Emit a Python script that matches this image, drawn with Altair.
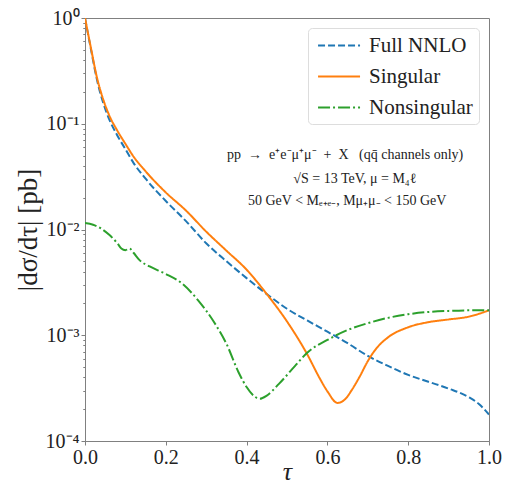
import altair as alt
import pandas as pd

# ---- data ----
tau_full = [0.0, 0.015, 0.03, 0.045, 0.06, 0.08, 0.1, 0.12, 0.15, 0.2, 0.25, 0.3, 0.35, 0.4,
            0.45, 0.5, 0.55, 0.6, 0.65, 0.7, 0.75, 0.8, 0.85, 0.9, 0.95, 0.975, 1.0]
val_full = [1.0, 0.50, 0.257, 0.158, 0.110, 0.0776, 0.0575, 0.0427, 0.0302, 0.0186, 0.0120,
            0.00741, 0.00501, 0.00347, 0.00245, 0.00178, 0.00138, 0.00108, 0.000841, 0.000638,
            0.000513, 0.000422, 0.000363, 0.000313, 0.000260, 0.000224, 0.000178]

tau_sing = [0.0, 0.015, 0.03, 0.045, 0.06, 0.08, 0.1, 0.12, 0.15, 0.2, 0.25, 0.3, 0.35, 0.4,
            0.45, 0.5, 0.55, 0.58, 0.6, 0.625, 0.645, 0.66, 0.68, 0.7, 0.72, 0.75, 0.8, 0.85,
            0.9, 0.95, 1.0]
val_sing = [1.0, 0.513, 0.269, 0.170, 0.120, 0.0861, 0.0646, 0.0490, 0.0355, 0.0224, 0.0151,
            0.00955, 0.00631, 0.00417, 0.00245, 0.00135, 0.000661, 0.000398, 0.000295, 0.000229,
            0.000251, 0.000302, 0.000407, 0.000569, 0.000741, 0.000955, 0.00119, 0.00133,
            0.00141, 0.00150, 0.00172]

tau_nons = [0.0, 0.02, 0.04, 0.06, 0.08, 0.09, 0.1, 0.11, 0.12, 0.135, 0.16, 0.2, 0.24, 0.28,
            0.32, 0.35, 0.38, 0.4, 0.42, 0.433, 0.45, 0.48, 0.52, 0.55, 0.6, 0.65, 0.7, 0.75,
            0.8, 0.85, 0.9, 0.95, 1.0]
val_nons = [0.0115, 0.0111, 0.0102, 0.00891, 0.00741, 0.00661, 0.00638, 0.00661, 0.00603,
            0.00513, 0.00447, 0.00380, 0.00309, 0.00214, 0.00132, 0.000832, 0.000447, 0.000324,
            0.000263, 0.000251, 0.000269, 0.000347, 0.000513, 0.000684, 0.000902, 0.00112,
            0.00130, 0.00146, 0.00158, 0.00166, 0.00170, 0.00172, 0.00172]

series_names = ["Full NNLO", "Singular", "Nonsingular"]
series_colors = ["#1f77b4", "#ff7f0e", "#2ca02c"]
series_dashes = [[7, 3], [1, 0], [12, 3, 2, 3]]

y_major = [1e-4, 1e-3, 1e-2, 1e-1, 1.0]
y_minor = [m * 10.0 ** e for e in (-4, -3, -2, -1) for m in (2, 3, 4, 5, 6, 7, 8, 9)]
x_ticks = [0.0, 0.2, 0.4, 0.6, 0.8, 1.0]

NB = "\u00a0"
ann_lines = [f"pp{NB} → {NB}e⁺e⁻μ⁺μ⁻{NB} + {NB}X{NB}{NB} (qq̄ channels only)",
             "√S = 13 TeV,  μ = M₄ℓ",
             "50 GeV < Mₑ₊ₑ₋,  Mμ₊μ₋ < 150 GeV"]
ann_x = [0.644, 0.668, 0.649]
ann_y = [0.0506, 0.0302, 0.0187]

FONT = "Liberation Serif"

rows = []
for name, ts, vs in [(series_names[0], tau_full, val_full),
                     (series_names[1], tau_sing, val_sing),
                     (series_names[2], tau_nons, val_nons)]:
    for t, v in zip(ts, vs):
        rows.append({"tau": t, "val": v, "series": name})
df = pd.DataFrame(rows)
ann_df = pd.DataFrame({"tau": ann_x, "val": ann_y, "text": ann_lines})

xscale = alt.Scale(domain=[0, 1], nice=False, zero=False)
yscale = alt.Scale(type="log", domain=[1e-4, 1], nice=False)

label_expr = "'10' + ['⁰','⁻¹','⁻²','⁻³','⁻⁴'][round(-log(datum.value)/LN10)]"

x_axis = alt.Axis(values=x_ticks, format=".1f", title="τ", titleFontStyle="italic",
                  titleFontSize=26, titleFontWeight="normal",
                  titleBaseline="alphabetic", titleY=38,
                  labelFontSize=20, tickSize=4, grid=False, labelPadding=2,
                  labelFlush=False)

minor_axis = alt.Axis(values=y_minor, labels=False, title=None, tickSize=2,
                      orient="left", grid=False, domain=False)

lines = alt.Chart(df).mark_line(strokeWidth=2, interpolate="monotone", clip=True).encode(
    x=alt.X("tau:Q", scale=xscale, axis=x_axis),
    y=alt.Y("val:Q", scale=yscale,
            axis=alt.Axis(values=y_major, labelExpr=label_expr, title="|dσ/dτ| [pb]",
                          titleFontSize=27, titleFontWeight="normal", titlePadding=3,
                          labelFontSize=20, tickSize=4, grid=False, labelPadding=2,
                          labelFlush=False)),
    color=alt.Color("series:N", scale=alt.Scale(domain=series_names, range=series_colors),
                    legend=alt.Legend(title=None, orient="top-right", offset=10,
                                      symbolType="M-0.71,0L3.29,0", symbolSize=441,
                                      symbolStrokeWidth=2, labelFontSize=21,
                                      labelFont=FONT, rowPadding=9, padding=6,
                                      labelOffset=32, fillColor="white",
                                      strokeColor="#dddddd", cornerRadius=4)),
    strokeDash=alt.StrokeDash("series:N",
                              scale=alt.Scale(domain=series_names, range=series_dashes),
                              legend=None),
)

minor = alt.Chart(df).mark_line(opacity=0).encode(
    x=alt.X("tau:Q", scale=xscale, axis=x_axis),
    y=alt.Y("val:Q", scale=yscale, axis=minor_axis),
)

ann = alt.Chart(ann_df).mark_text(font=FONT, fontSize=14, align="center",
                                  baseline="middle", color="#222222").encode(
    x=alt.X("tau:Q", scale=xscale, axis=x_axis),
    y=alt.Y("val:Q", scale=yscale, axis=minor_axis),
    text="text:N",
)

chart = alt.layer(lines, minor, ann).resolve_axis(y="independent").resolve_scale(
    y="shared").properties(
    width=404, height=423,
    autosize=alt.AutoSizeParams(type="none"),
    padding={"left": 77, "top": 10, "right": 15, "bottom": 50},
).configure_view(stroke="#808080", strokeWidth=1).configure_axis(
    domainColor="#808080", tickColor="#808080", labelFont=FONT, titleFont=FONT,
    labelColor="#222222", titleColor="#222222",
).configure_legend(labelColor="#222222")

chart.save("out.html", embed_options={"renderer": "svg", "actions": False})
